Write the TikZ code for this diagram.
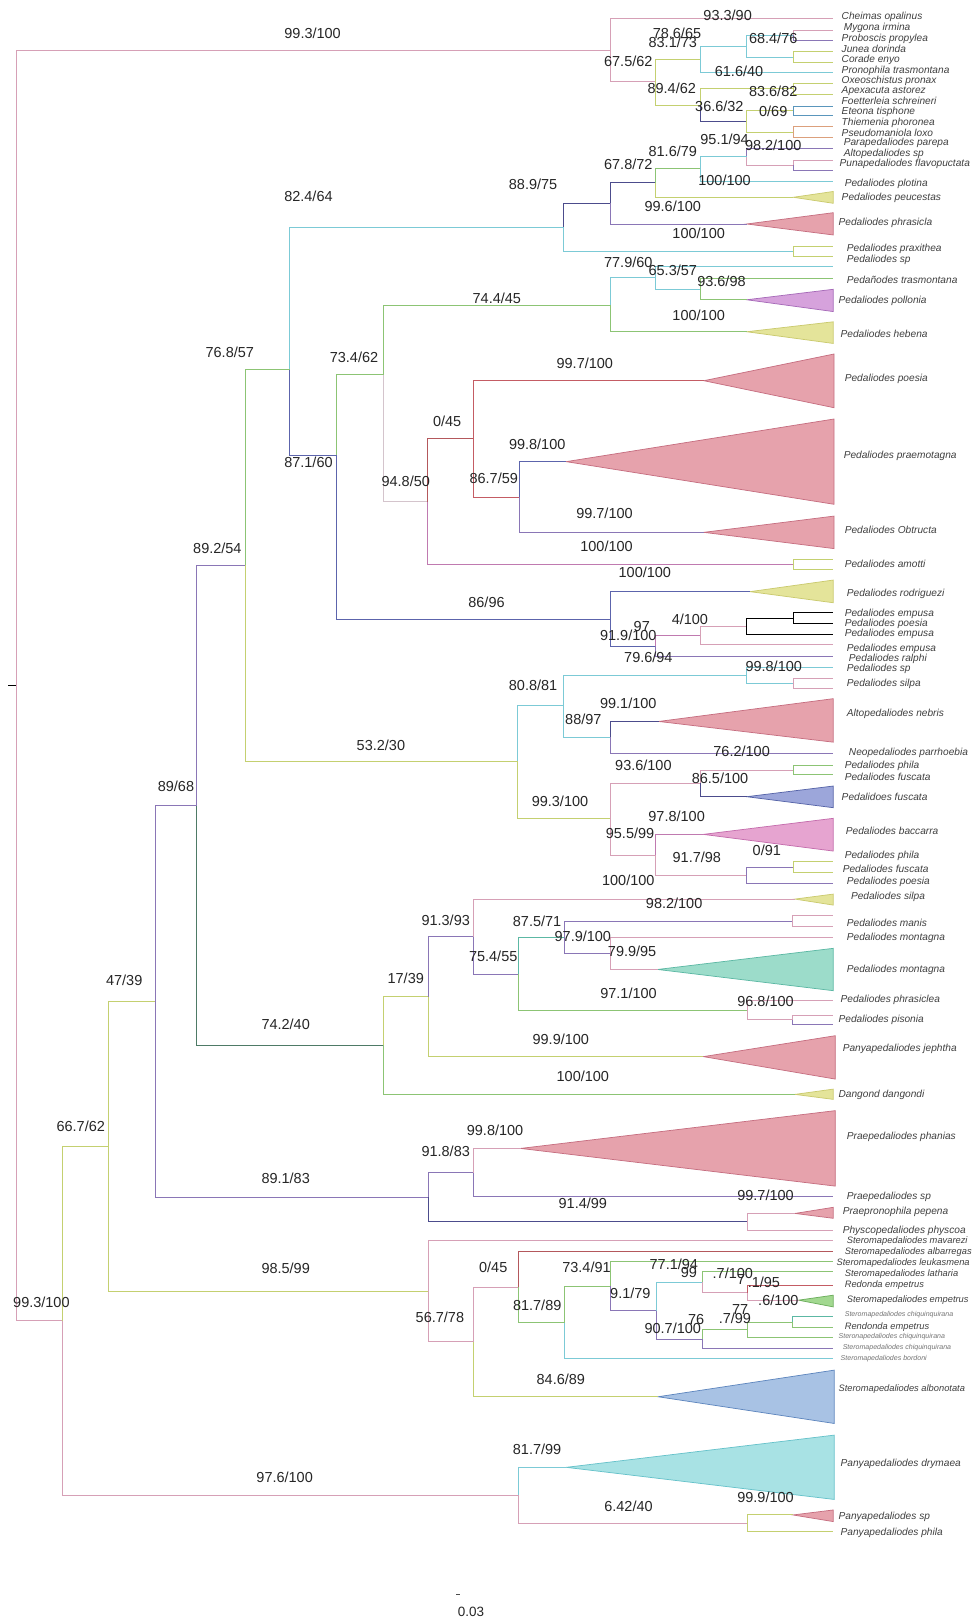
\documentclass[tikz,border=0pt]{standalone}
\usepackage{fontspec}
\setmainfont{Liberation Sans}
\definecolor{pk}{HTML}{D6A0B6}
\definecolor{mg}{HTML}{C07AB0}
\definecolor{yg}{HTML}{C4D070}
\definecolor{gr}{HTML}{8CC474}
\definecolor{cy}{HTML}{7CCAD6}
\definecolor{tl}{HTML}{5CB8A4}
\definecolor{pu}{HTML}{8A76B6}
\definecolor{nv}{HTML}{4C4C8C}
\definecolor{bl}{HTML}{5A96BC}
\definecolor{bv}{HTML}{5C64AC}
\definecolor{rd}{HTML}{C45C64}
\definecolor{br}{HTML}{B4585C}
\definecolor{or}{HTML}{DCA07C}
\definecolor{gy}{HTML}{D4C4CC}
\definecolor{dg}{HTML}{4E7A66}
\definecolor{fyel}{HTML}{E4E49A}\definecolor{dyel}{HTML}{CACA6E}
\definecolor{fpnk}{HTML}{E6A2AC}\definecolor{dpnk}{HTML}{C66E80}
\definecolor{fmag}{HTML}{E6A4D0}\definecolor{dmag}{HTML}{C46CAC}
\definecolor{forc}{HTML}{D6A2DC}\definecolor{dorc}{HTML}{A66AB8}
\definecolor{fblu}{HTML}{9CA6DA}\definecolor{dblu}{HTML}{5664A8}
\definecolor{ftea}{HTML}{9CDCCA}\definecolor{dtea}{HTML}{5CB8A4}
\definecolor{fgrn}{HTML}{A2D890}\definecolor{dgrn}{HTML}{6CAE5C}
\definecolor{flbl}{HTML}{A8C2E4}\definecolor{dlbl}{HTML}{5E86BE}
\definecolor{fcya}{HTML}{A8E2E4}\definecolor{dcya}{HTML}{66C2CA}
\newcommand{\edg}[3]{\draw[brn,#1] (#2) |- (#3);}
\newcommand{\tri}[5]{\filldraw[#1] (#2) -- (#3,#4) -- (#3,#5) -- cycle;}
\newcommand{\slab}[3]{\node[lab] (#1) at (#2) {#3};}
\newcommand{\tlab}[4][tip]{\node[#1] (#2) at (#3) {#4};}
\tikzset{
  brn/.style={line width=0.9pt},
  lab/.style={font=\fontsize{14}{14}\selectfont, text=black!85, inner sep=0pt},
  tip/.style={font=\fontsize{9.8}{10}\selectfont\itshape, text=black!75, anchor=west, inner sep=0pt},
  tipS/.style={tip, font=\fontsize{9}{9}\selectfont\itshape},
  tipT/.style={tip, font=\fontsize{6.8}{7}\selectfont\itshape, text=black!55},
  tyel/.style={fill=fyel,draw=dyel,line width=0.7pt},
  tpnk/.style={fill=fpnk,draw=dpnk,line width=0.7pt},
  tmag/.style={fill=fmag,draw=dmag,line width=0.7pt},
  torc/.style={fill=forc,draw=dorc,line width=0.7pt},
  tblu/.style={fill=fblu,draw=dblu,line width=0.7pt},
  ttea/.style={fill=ftea,draw=dtea,line width=0.7pt},
  tgrn/.style={fill=fgrn,draw=dgrn,line width=0.7pt},
  tlbl/.style={fill=flbl,draw=dlbl,line width=0.7pt},
  tcya/.style={fill=fcya,draw=dcya,line width=0.7pt},
}
\begin{document}
\begin{tikzpicture}[x=1pt,y=-1pt]
\fill[white] (0,0) rectangle (940,1568);
\useasboundingbox (0,0) rectangle (940,1568);
% ---------- internal nodes ----------
\coordinate (root) at (16,662.2);
\coordinate (rs) at (8,662.2);
\coordinate (A) at (589.6,48.4);
\coordinate (B) at (632.9,79);
\coordinate (C) at (676.7,57.2);
\coordinate (D) at (721.4,44.6);
\coordinate (E1) at (766.4,34.1);
\coordinate (E2) at (766.4,55.1);
\coordinate (G) at (676.7,101.8);
\coordinate (H) at (766.4,85.6);
\coordinate (I) at (721.4,117.3);
\coordinate (P1) at (766.4,107.2);
\coordinate (P2) at (766.4,127.5);
\coordinate (M) at (544.6,219.5);
\coordinate (N) at (589.6,196.3);
\coordinate (L) at (632.9,176.7);
\coordinate (O) at (676.7,163.2);
\coordinate (K) at (721.4,151.5);
\coordinate (P3) at (766.4,159.7);
\coordinate (PX) at (766.4,242.7);
\coordinate (pe) at (766.4,190.6);
\coordinate (phr) at (721.4,216.4);
\coordinate (P) at (280,356.7);
\coordinate (R) at (325,440);
\coordinate (S) at (370,362);
\coordinate (T) at (589.6,294.7);
\coordinate (U) at (632.9,268.5);
\coordinate (V) at (676.7,279.25);
\coordinate (pol) at (721.4,289.6);
\coordinate (heb) at (721.4,320.5);
\coordinate (W) at (413,484.6);
\coordinate (X) at (457,424);
\coordinate (Y) at (501.5,480.2);
\coordinate (poe) at (680,367.8);
\coordinate (prm) at (547,446);
\coordinate (obt) at (680,514.3);
\coordinate (AM) at (767,545.7);
\coordinate (Z) at (589.6,598.2);
\coordinate (rod) at (724.6,571.6);
\coordinate (AA) at (632.9,624.3);
\coordinate (AB) at (676.7,614.1);
\coordinate (AC) at (721.4,604.9);
\coordinate (AD) at (766.4,597.1);
\coordinate (Q) at (237,546);
\coordinate (AH) at (500,735.5);
\coordinate (AE) at (544.6,682);
\coordinate (AF) at (721.4,652.3);
\coordinate (SB) at (766.4,659.9);
\coordinate (AG) at (589.6,712.3);
\coordinate (neb) at (636.4,697);
\coordinate (AI) at (589.6,791);
\coordinate (AJ) at (676.7,756.8);
\coordinate (PF) at (766.4,744);
\coordinate (fus) at (721.4,769.7);
\coordinate (AK) at (632.9,826);
\coordinate (bac) at (679.5,806.1);
\coordinate (AL) at (721.4,845.6);
\coordinate (PB) at (766.4,837.8);
\coordinate (Rr) at (190,778);
\coordinate (VV) at (370,1010);
\coordinate (WW) at (413.5,962.8);
\coordinate (XX) at (457.6,904.8);
\coordinate (sil) at (768,868.6);
\coordinate (YY) at (500.8,941.05);
\coordinate (ZZ) at (545.3,905.7);
\coordinate (MB) at (765.9,890.05);
\coordinate (AAA) at (589.5,921.1);
\coordinate (mon) at (635.4,936.6);
\coordinate (BBB) at (722,975.9);
\coordinate (PS) at (765.9,985);
\coordinate (jep) at (679.6,1020.8);
\coordinate (dan) at (768,1057.3);
\coordinate (CCC) at (413.5,1156.7);
\coordinate (DDD) at (457.6,1132.9);
\coordinate (pha) at (503,1109.5);
\coordinate (EEE) at (722.1,1180.35);
\coordinate (pep) at (768.1,1172.3);
\coordinate (SS) at (150,967.35);
\coordinate (FFF) at (413.5,1247.55);
\coordinate (GGG) at (457.6,1296.4);
\coordinate (HHH) at (501.1,1243.4);
\coordinate (III) at (545.3,1277.7);
\coordinate (JJJ) at (589.5,1242.7);
\coordinate (KKK) at (633.9,1266.3);
\coordinate (LLL) at (678.2,1238.7);
\coordinate (MMM) at (722.1,1248.9);
\coordinate (emp) at (771.5,1256.1);
\coordinate (NNN) at (678.2,1293.9);
\coordinate (OOO) at (722.1,1284.7);
\coordinate (PPP) at (766,1277.2);
\coordinate (alb) at (635.8,1349.4);
\coordinate (TT) at (105,1107.45);
\coordinate (QQQ) at (501.1,1444.65);
\coordinate (dry) at (547.1,1417.6);
\coordinate (RRR) at (722.1,1471.7);
\coordinate (psq) at (766.1,1463.6);
\coordinate (UU) at (60,1276.05);
% ---------- tips ----------
\foreach \n/\y in {c1/17.7,c2/29,c3/39.3,c4/50,c5/60.2,c6/70,c7/80.5,c8/90.8,c9/102.4,c10/112,c11/122.4,c12/132.7,c13/143.3,c14/154.6,c15/164.9,c16/174.9,c17a/237.7,c17b/247.8,c18/257.6,c19/268.9,am1/540.9,am2/550.5,e1/591.9,e2/602.3,e3/612.6,e4/623,e5/634.5,s1/644.7,s2/655.1,s3/664.7,np/727.5,f1/739.7,f2/748.4,b1/832.5,b2/843.1,b3/853.4,m1/884.9,m2/895.2,m3/905.6,ph1/966.8,ps1/980.6,ps2/989.4,psp/1156.2,phy/1188.4,st1/1198.7,st2/1209,st3/1219.1,st4/1228.6,st5/1241.6,st6/1272.3,st7/1282,st8/1292.3,st9/1303,st10/1312.8,pp/1479.7}
  {\coordinate (\n) at (805,\y);}
% ---------- triangles ----------
\tri{tyel}{pe}{805}{185}{196.4}
\tri{tpnk}{phr}{805}{205.5}{227}
\tri{torc}{pol}{805}{279.5}{301}
\tri{tyel}{heb}{805}{310.9}{331.8}
\tri{tpnk}{poe}{805.8}{342}{393.9}
\tri{tpnk}{prm}{805.8}{404.8}{487.2}
\tri{tpnk}{obt}{805.8}{498.6}{530}
\tri{tyel}{rod}{805}{560.4}{582.3}
\tri{tpnk}{neb}{805}{675}{717}
\tri{tblu}{fus}{805}{759.4}{780.3}
\tri{tmag}{bac}{805}{790.6}{822.2}
\tri{tyel}{sil}{805}{863.8}{874.4}
\tri{ttea}{mon}{805}{916.2}{957.1}
\tri{tpnk}{jep}{807}{1000.6}{1042.5}
\tri{tyel}{dan}{805}{1052.2}{1062.1}
\tri{tpnk}{pha}{807}{1073}{1145.9}
\tri{tpnk}{pep}{805}{1166.4}{1177}
\tri{tgrn}{emp}{805}{1251.3}{1262.6}
\tri{tlbl}{alb}{805.9}{1323.7}{1375.2}
\tri{tcya}{dry}{805.9}{1386.5}{1448.6}
\tri{tpnk}{psq}{805}{1458.8}{1470}
% ---------- branches ----------
\draw[brn,black] (rs) -- (root);
\edg{pk}{root}{A} \edg{pk}{root}{UU}
\edg{pk}{A}{c1} \edg{pk}{A}{B}
\edg{yg}{B}{C} \edg{yg}{B}{G}
\edg{cy}{C}{D} \edg{cy}{C}{c6}
\edg{cy}{D}{E1} \edg{cy}{D}{E2}
\edg{pk}{E1}{c2} \edg{pu}{E1}{c3}
\edg{yg}{E2}{c4} \edg{yg}{E2}{c5}
\edg{yg}{G}{H} \edg{nv}{G}{I}
\edg{yg}{H}{c7} \edg{yg}{H}{c8}
\edg{yg}{I}{P1} \edg{yg}{I}{P2}
\edg{bl}{P1}{c9} \edg{bl}{P1}{c10}
\edg{or}{P2}{c11} \edg{or}{P2}{c12}
\edg{pu}{K}{c13} \edg{pk}{K}{P3}
\edg{pk}{P3}{c14} \edg{pu}{P3}{c15}
\edg{cy}{O}{K} \edg{cy}{O}{c16}
\edg{gr}{L}{O} \edg{yg}{L}{pe}
\edg{nv}{N}{L} \edg{pu}{N}{phr}
\edg{nv}{M}{N} \edg{cy}{M}{PX}
\edg{yg}{PX}{c17a} \edg{yg}{PX}{c17b}
\edg{cy}{P}{M} \edg{bv}{P}{R}
\edg{gr}{R}{S} \edg{bv}{R}{Z}
\edg{gr}{S}{T} \edg{gy}{S}{W}
\edg{cy}{T}{U} \edg{gr}{T}{heb}
\edg{cy}{U}{c18} \edg{cy}{U}{V}
\edg{gr}{V}{c19} \edg{gr}{V}{pol}
\edg{br}{W}{X} \edg{mg}{W}{AM}
\edg{rd}{X}{poe} \edg{rd}{X}{Y}
\edg{bv}{Y}{prm} \edg{pu}{Y}{obt}
\edg{yg}{AM}{am1} \edg{yg}{AM}{am2}
\edg{bv}{Z}{rod} \edg{bv}{Z}{AA}
\edg{mg}{AA}{AB} \edg{pu}{AA}{e5}
\edg{pk}{AB}{AC} \edg{pk}{AB}{e4}
\edg{black}{AC}{AD} \edg{black}{AC}{e3}
\edg{black}{AD}{e1} \edg{black}{AD}{e2}
\edg{gr}{Q}{P} \edg{yg}{Q}{AH}
\edg{cy}{AH}{AE} \edg{yg}{AH}{AI}
\edg{cy}{AE}{AF} \edg{cy}{AE}{AG}
\edg{cy}{AF}{s1} \edg{cy}{AF}{SB}
\edg{pk}{SB}{s2} \edg{pk}{SB}{s3}
\edg{nv}{AG}{neb} \edg{pu}{AG}{np}
\edg{pk}{AI}{AJ} \edg{pk}{AI}{AK}
\edg{pk}{AJ}{PF} \edg{nv}{AJ}{fus}
\edg{gr}{PF}{f1} \edg{gr}{PF}{f2}
\edg{mg}{AK}{bac} \edg{pk}{AK}{AL}
\edg{pu}{AL}{PB} \edg{pu}{AL}{b3}
\edg{yg}{PB}{b1} \edg{yg}{PB}{b2}
\edg{pu}{Rr}{Q} \edg{dg}{Rr}{VV}
\edg{pu}{SS}{Rr} \edg{pu}{SS}{CCC}
\edg{yg}{VV}{WW} \edg{gr}{VV}{dan}
\edg{pu}{WW}{XX} \edg{yg}{WW}{jep}
\edg{pk}{XX}{sil} \edg{pu}{XX}{YY}
\edg{tl}{YY}{ZZ} \edg{gr}{YY}{BBB}
\edg{pu}{ZZ}{MB} \edg{pu}{ZZ}{AAA}
\edg{pk}{MB}{m1} \edg{pk}{MB}{m2}
\edg{pk}{AAA}{m3} \edg{pk}{AAA}{mon}
\edg{pk}{BBB}{ph1} \edg{pk}{BBB}{PS}
\edg{pk}{PS}{ps1} \edg{pu}{PS}{ps2}
\edg{pu}{CCC}{DDD} \edg{nv}{CCC}{EEE}
\edg{pk}{DDD}{pha} \edg{pu}{DDD}{psp}
\edg{pk}{EEE}{pep} \edg{pk}{EEE}{phy}
\edg{yg}{TT}{SS} \edg{yg}{TT}{FFF}
\edg{pk}{FFF}{st1} \edg{pk}{FFF}{GGG}
\edg{pk}{GGG}{HHH} \edg{yg}{GGG}{alb}
\edg{br}{HHH}{st2} \edg{gr}{HHH}{III}
\edg{gr}{III}{JJJ} \edg{cy}{III}{st10}
\edg{gr}{JJJ}{st3} \edg{pu}{JJJ}{KKK}
\edg{cy}{KKK}{LLL} \edg{pu}{KKK}{NNN}
\edg{gr}{LLL}{st4} \edg{pk}{LLL}{MMM}
\edg{rd}{MMM}{st5} \edg{pk}{MMM}{emp}
\edg{gr}{NNN}{OOO} \edg{pu}{NNN}{st9}
\edg{gr}{OOO}{PPP} \edg{gr}{OOO}{st8}
\edg{tl}{PPP}{st6} \edg{gr}{PPP}{st7}
\edg{yg}{UU}{TT} \edg{pk}{UU}{QQQ}
\edg{cy}{QQQ}{dry} \edg{pk}{QQQ}{RRR}
\edg{yg}{RRR}{psq} \edg{yg}{RRR}{pp}
% ---------- support labels ----------
\slab{l1}{302,32}{99.3/100}
\slab{l2}{703,14.5}{93.3/90}
\slab{l3}{654,32}{78.6/65}
\slab{l4}{650,41}{83.1/73}
\slab{l5}{747,37}{68.4/76}
\slab{l6}{607,59.6}{67.5/62}
\slab{l7}{714,69}{61.6/40}
\slab{l8}{649,85}{89.4/62}
\slab{l9}{747,88.6}{83.6/82}
\slab{l10}{695,103}{36.6/32}
\slab{l11}{747,108}{0/69}
\slab{l12}{700,135}{95.1/94}
\slab{l13}{747,140}{98.2/100}
\slab{l14}{650,146.5}{81.6/79}
\slab{l15}{607,158.4}{67.8/72}
\slab{l16}{700,174}{100/100}
\slab{l17}{515,178}{88.9/75}
\slab{l18}{650,199.7}{99.6/100}
\slab{l19}{298,190}{82.4/64}
\slab{l20}{675,225}{100/100}
\slab{l21}{607,253}{77.9/60}
\slab{l22}{650,261}{65.3/57}
\slab{l23}{697,272}{93.6/98}
\slab{l24}{480,288}{74.4/45}
\slab{l25}{675,304.3}{100/100}
\slab{l26}{222,340}{76.8/57}
\slab{l27}{342,345}{73.4/62}
\slab{l28}{565,351}{99.7/100}
\slab{l29}{432,407}{0/45}
\slab{l30}{519,429}{99.8/100}
\slab{l31}{298,447}{87.1/60}
\slab{l32}{477,462}{86.7/59}
\slab{l33}{392,465}{94.8/50}
\slab{l34}{584,496}{99.7/100}
\slab{l35}{586,528}{100/100}
\slab{l36}{210,530}{89.2/54}
\slab{l37}{623,553}{100/100}
\slab{l38}{470,582}{86/96}
\slab{l39}{666.5,598.3}{4/100}
\slab{l40}{620,605.4}{97}
\slab{l41}{607,613.5}{91.9/100}
\slab{l42}{626.4,635}{79.6/94}
\slab{l43}{747.5,643.4}{99.8/100}
\slab{l44}{515,662}{80.8/81}
\slab{l45}{607,679.5}{99.1/100}
\slab{l46}{563.6,695}{88/97}
\slab{l47}{368,720}{53.2/30}
\slab{l48}{716.5,726}{76.2/100}
\slab{l49}{621.6,739}{93.6/100}
\slab{l50}{695.6,752}{86.5/100}
\slab{l51}{170,760}{89/68}
\slab{l52}{541,774.6}{99.3/100}
\slab{l53}{653.7,789}{97.8/100}
\slab{l54}{608.7,805}{95.5/99}
\slab{l55}{740.8,821.2}{0/91}
\slab{l56}{673.2,828.3}{91.7/98}
\slab{l57}{607,850.2}{100/100}
\slab{l58}{651.3,872.7}{98.2/100}
\slab{l59}{430.6,888.9}{91.3/93}
\slab{l60}{518.9,890.5}{87.5/71}
\slab{l61}{563.1,905}{97.9/100}
\slab{l62}{610.7,919.4}{79.9/95}
\slab{l63}{476.5,923.7}{75.4/55}
\slab{l64}{392,945}{17/39}
\slab{l65}{120,947}{47/39}
\slab{l66}{607.2,959.7}{97.1/100}
\slab{l67}{739.6,967.8}{96.8/100}
\slab{l68}{276,990}{74.2/40}
\slab{l69}{541.8,1004}{99.9/100}
\slab{l70}{563.1,1040.2}{100/100}
\slab{l71}{78,1088}{66.7/62}
\slab{l72}{478.3,1091.8}{99.8/100}
\slab{l73}{430.6,1112.7}{91.8/83}
\slab{l74}{276,1138}{89.1/83}
\slab{l75}{739.6,1154.5}{99.7/100}
\slab{l76}{563.1,1162.6}{91.4/99}
\slab{l77}{276,1225}{98.5/99}
\slab{l78}{651,1221}{77.1/94}
\slab{l79}{566.6,1224}{73.4/91}
\slab{l80}{476.5,1224}{0/45}
\slab{l81}{665.5,1229}{99}
\slab{l82}{708,1230}{.7/100}
\slab{l83}{716,1236}{7}
\slab{l84}{738,1239}{.1/95}
\slab{l85}{752,1256}{.6/100}
\slab{l86}{609,1249}{9.1/79}
\slab{l87}{40,1258}{99.3/100}
\slab{l88}{519,1261}{81.7/89}
\slab{l89}{715,1265}{77}
\slab{l90}{425,1273}{56.7/78}
\slab{l91}{672.6,1274.7}{76}
\slab{l92}{710,1274}{.7/99}
\slab{l93}{650,1283}{90.7/100}
\slab{l94}{541.8,1332.7}{84.6/89}
\slab{l95}{518.9,1400}{81.7/99}
\slab{l96}{275,1427}{97.6/100}
\slab{l97}{739.6,1446.6}{99.9/100}
\slab{l98}{607.2,1455}{6.42/40}
% ---------- tip labels ----------
\tlab{n1}{813,16.7}{Cheimas opalinus}
\tlab{n2}{815,27.4}{Mygona irmina}
\tlab{n3}{813,37.7}{Proboscis propylea}
\tlab{n4}{813,47.7}{Junea dorinda}
\tlab{n5}{813,58}{Corade enyo}
\tlab{n6}{813,68.6}{Pronophila trasmontana}
\tlab{n7}{813,78}{Oxeoschistus pronax}
\tlab{n8}{813,88}{Apexacuta astorez}
\tlab{n9}{813,97.6}{Foetterleia schreineri}
\tlab{n10}{813,108}{Eteona tisphone}
\tlab{n11}{813,118.5}{Thiemenia phoronea}
\tlab{n12}{813,128}{Pseudomaniola loxo}
\tlab{n13}{815,138.5}{Parapedaliodes parepa}
\tlab{n14}{815,149}{Altopedaliodes sp}
\tlab{n15}{811,158.5}{Punapedaliodes flavopuctata}
\tlab{n16}{816,177.8}{Pedaliodes plotina}
\tlab{n17}{813,191.6}{Pedaliodes peucestas}
\tlab{n18}{810,215}{Pedaliodes phrasicla}
\tlab{n19}{818,240}{Pedaliodes praxithea}
\tlab{n20}{818,251.4}{Pedaliodes sp}
\tlab{n21}{818,270.5}{Pedañodes trasmontana}
\tlab{n22}{810,290.5}{Pedaliodes pollonia}
\tlab{n23}{812,323}{Pedaliodes hebena}
\tlab{n24}{816,366}{Pedaliodes poesia}
\tlab{n25}{815,440}{Pedaliodes praemotagna}
\tlab{n26}{816,512}{Pedaliodes Obtructa}
\tlab{n27}{816,545}{Pedaliodes amotti}
\tlab{n28}{818,573.3}{Pedaliodes rodriguezi}
\tlab{n29}{816,592.6}{Pedaliodes empusa}
\tlab{n30}{816,603}{Pedaliodes poesia}
\tlab{n31}{816,612}{Pedaliodes empusa}
\tlab{n32}{818,626.4}{Pedaliodes empusa}
\tlab{n33}{820,636.7}{Pedaliodes ralphi}
\tlab{n34}{818,646.3}{Pedaliodes sp}
\tlab{n35}{818,660.8}{Pedaliodes silpa}
\tlab{n36}{818,690}{Altopedaliodes nebris}
\tlab{n37}{820,727}{Neopedaliodes parrhoebia}
\tlab{n38}{816,740.2}{Pedaliodes phila}
\tlab{n39}{816,751}{Pedaliodes fuscata}
\tlab{n40}{813,769.7}{Pedalidoes fuscata}
\tlab{n41}{817,802.9}{Pedaliodes baccarra}
\tlab{n42}{816,827}{Pedaliodes phila}
\tlab{n43}{814,839}{Pedaliodes fuscata}
\tlab{n44}{818,851.9}{Pedaliodes poesia}
\tlab{n45}{822,866.4}{Pedaliodes silpa}
\tlab{n46}{818,891.4}{Pedaliodes manis}
\tlab{n47}{818,906.5}{Pedaliodes montagna}
\tlab{n48}{818,937.1}{Pedaliodes montagna}
\tlab{n49}{812,966}{Pedaliodes phrasiclea}
\tlab{n50}{810,985.3}{Pedaliodes pisonia}
\tlab{n51}{814,1013.8}{Panyapedaliodes jephtha}
\tlab{n52}{810,1057.3}{Dangond dangondi}
\tlab{n53}{818,1098.2}{Praepedaliodes phanias}
\tlab{n54}{818,1156.2}{Praepedaliodes sp}
\tlab{n55}{814,1170.8}{Praepronophila pepena}
\tlab{n56}{814,1189}{Physcopedaliodes physcoa}
\tlab[tipS]{n57}{818,1199}{Steromapedaliodes mavarezi}
\tlab[tipS]{n58}{816,1210}{Steromapedaliodes albarregas}
\tlab[tipS]{n59}{808,1220}{Steromapedaliodes leukasmena}
\tlab[tipS]{n60}{816,1231}{Steromapedaliodes latharia}
\tlab[tipS]{n61}{816,1242}{Redonda empetrus}
\tlab[tipS]{n62}{818,1256}{Steromapedaliodes empetrus}
\tlab[tipT]{n63}{816,1270.5}{Steromapedaliodes chiquinquirana}
\tlab[tipS]{n64}{816,1282}{Rendonda empetrus}
\tlab[tipT]{n65}{810,1291.6}{Steronapedaliodes chiquinquirana}
\tlab[tipT]{n66}{814,1302}{Steromapedaliodes chiquinquirana}
\tlab[tipT]{n67}{812,1313}{Steromapedaliodes bordoni}
\tlab[tipS]{n68}{810,1342.3}{Steromapedaliodes albonotata}
\tlab{n69}{812,1414.4}{Panyapedaliodes drymaea}
\tlab{n70}{810,1465.4}{Panyapedaliodes sp}
\tlab{n71}{812,1480.7}{Panyapedaliodes phila}
% ---------- scale ----------
\coordinate (sc1) at (441,1540);
\coordinate (sc2) at (444,1540);
\draw[line width=0.8pt,black!70] (sc1) -- (sc2);
\node[font=\fontsize{13}{13}\selectfont, text=black!85, inner sep=0pt] (scl) at (455,1557) {0.03};
\end{tikzpicture}
\end{document}
